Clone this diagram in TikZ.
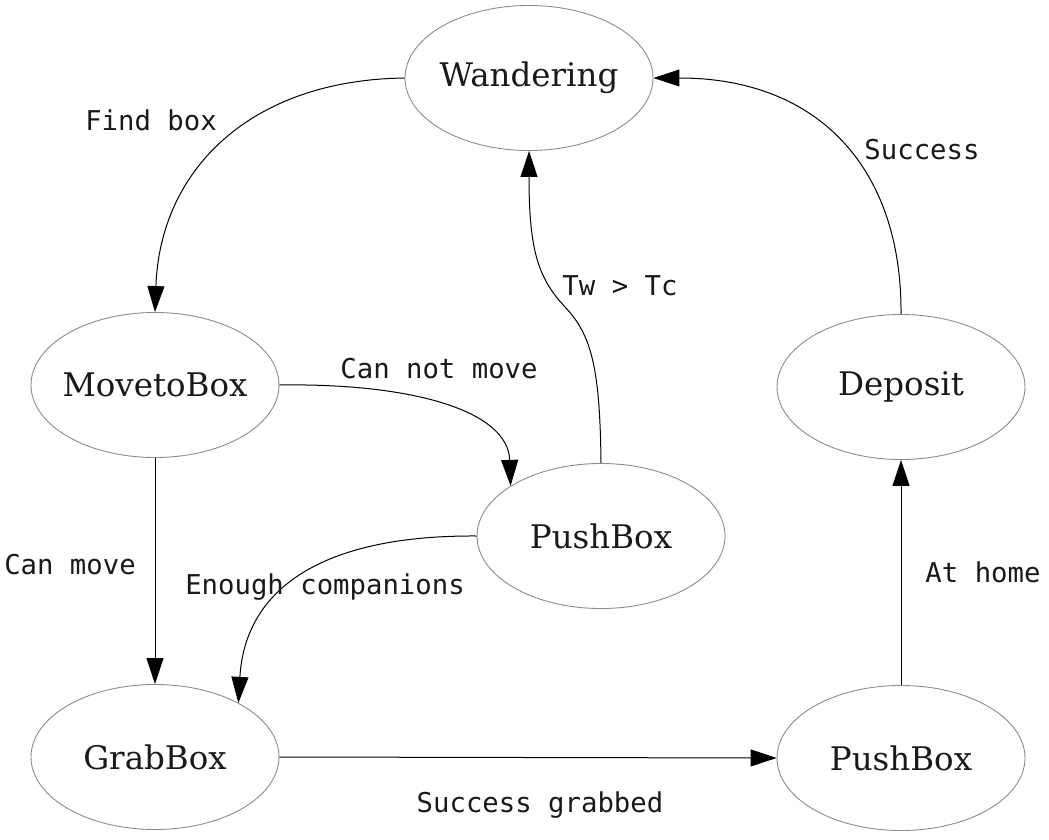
\documentclass[tikz,border=0pt]{standalone}
\usepackage{fontspec}
\setmainfont{DejaVu Serif}
\setmonofont{DejaVu Sans Mono}
\usetikzlibrary{shapes.geometric,arrows.meta}
\newcommand{\zw}[1]{\makebox[0pt]{#1}}
\begin{document}
\begin{tikzpicture}[x=1pt,y=-1pt,
  state/.style={ellipse,draw=black!45,line width=0.9pt,minimum width=248pt,minimum height=145pt,inner sep=0pt,
    font=\fontsize{32.5}{40}\selectfont,text=black!90},
  lbl/.style={font=\ttfamily\fontsize{27.3}{32}\selectfont,text=black!90,inner sep=0pt},
  arr/.style={line width=1pt,-{Triangle[length=26pt,width=17pt]}}]
\useasboundingbox (0,0) rectangle (1049,840);
\node[state] (W) at (529,78) {\zw{Wandering}};
\node[state] (M) at (155,385) {\zw{MovetoBox}};
\node[state] (P) at (601,536) {\zw{PushBox}};
\node[state] (D) at (901,387) {\zw{Deposit}};
\node[state] (G) at (155,757) {\zw{GrabBox}};
\node[state] (Q) at (901,758) {\zw{PushBox}};
\coordinate (k) at (565,307);
\draw[arr] (W.west) .. controls (250,80) and (160,170) .. (M.north);
\draw[arr] (M.south) -- (G.north);
\draw[arr] (M.east) .. controls (410,383) and (508,410) .. (P.151);
\draw[line width=1pt] (P.north) .. controls (600,370) and (592,335) .. (k);
\draw[arr] (k) .. controls (538,278) and (529,250) .. (W.south);
\draw[arr] (P.west) .. controls (320,535) and (245,590) .. (G.33);
\draw[arr] (G.east) -- (Q.west);
\draw[arr] (Q.north) -- (D.south);
\draw[arr] (D.north) .. controls (902,170) and (820,78) .. (W.east);
\node[lbl] (l1) at (151,120) {Find box};
\node[lbl] (l2) at (922,150) {Success};
\node[lbl] (l3) at (620,286) {Tw > Tc};
\node[lbl] (l4) at (439,369) {Can not move};
\node[lbl] (l5) at (70,565) {Can move};
\node[lbl] (l6) at (325,587) {Enough companions};
\node[lbl] (l7) at (983,572) {At home};
\node[lbl] (l8) at (540,805) {Success grabbed};
\end{tikzpicture}
\end{document}
